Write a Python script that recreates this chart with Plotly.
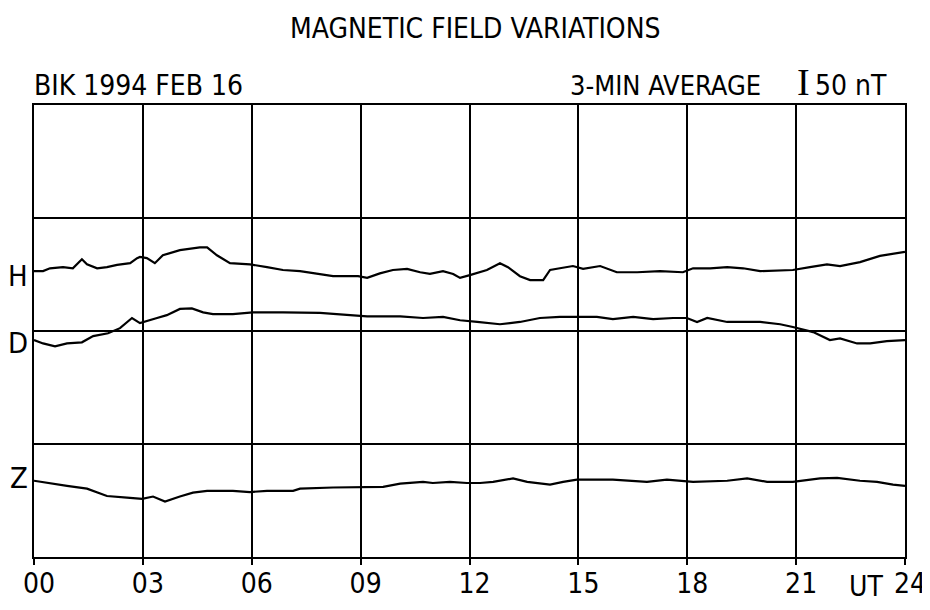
import plotly.graph_objects as go

# ---- data (UT hours, nT deviations from each trace's start level) ----
H_UT = [0.0, 0.25, 0.44, 0.80, 1.07, 1.32, 1.46, 1.74, 2.01, 2.29, 2.65, 2.84, 2.92, 3.11, 3.33,
        3.55, 4.02, 4.30, 4.57, 4.77, 5.04, 5.40, 5.95, 6.42, 6.86, 7.33, 7.80, 8.24, 8.93, 9.18,
        9.53, 9.89, 10.28, 10.64, 10.91, 11.27, 11.55, 11.74, 12.01, 12.48, 12.84, 13.06, 13.39,
        13.67, 14.03, 14.22, 14.49, 14.85, 15.13, 15.60, 16.06, 16.62, 17.25, 17.88, 18.16, 18.63,
        19.10, 19.54, 20.01, 20.91, 21.38, 21.85, 22.21, 22.76, 23.31, 24.0]
H_nT = [0, 0, 5, 7, 5, 21, 12, 5, 7, 11, 14, 23, 25, 23, 14,
        28, 37, 39, 42, 42, 28, 14, 12, 7, 2, 0, -4, -9, -9, -12,
        -4, 2, 4, -2, -5, 0, -5, -12, -7, 2, 14, 7, -9,
        -16, -16, 2, 5, 9, 4, 9, -2, -2, 0, -2, 5, 5,
        7, 5, 0, 2, 7, 12, 9, 16, 27, 34]

D_UT = [0.0, 0.25, 0.58, 0.91, 1.32, 1.63, 2.04, 2.37, 2.70, 2.92, 3.39, 3.66, 4.02, 4.35, 4.66,
        4.93, 5.48, 6.03, 6.86, 7.88, 8.71, 9.18, 10.09, 10.72, 11.27, 11.74, 12.21, 12.84, 13.39,
        13.94, 14.49, 14.85, 15.51, 15.95, 16.51, 17.06, 17.61, 17.99, 18.27, 18.55, 19.10, 20.01,
        20.56, 20.91, 21.47, 21.93, 22.21, 22.68, 23.04, 23.50, 24.0]
D_nT = [2, -4, -9, -4, -2, 9, 14, 23, 41, 32, 41, 46, 57, 58, 51,
        48, 48, 51, 51, 50, 46, 44, 44, 41, 43, 37, 34, 30, 34,
        41, 43, 43, 43, 39, 43, 39, 41, 41, 34, 41, 34, 34,
        30, 25, 16, 2, 5, -4, -4, 0, 2]

Z_UT = [0.0, 0.36, 0.91, 1.46, 2.01, 2.56, 2.98, 3.28, 3.61, 4.02, 4.38, 4.77, 5.48, 5.95, 6.42,
        7.14, 7.33, 8.24, 8.93, 9.62, 10.09, 10.72, 10.99, 11.46, 11.93, 12.29, 12.65, 13.20, 13.59,
        14.22, 14.58, 14.96, 15.95, 16.89, 17.44, 18.16, 19.10, 19.65, 20.20, 20.91, 21.66, 22.13,
        22.76, 23.23, 23.67, 24.0]
Z_nT = [0, -4, -9, -14, -27, -30, -32, -28, -37, -28, -21, -18, -18, -20, -18,
        -18, -14, -12, -12, -11, -5, -2, -4, -2, -4, -4, -2, 4, -2,
        -7, -2, 2, 2, -2, 2, -2, 0, 4, -2, -2, 4, 5,
        0, -2, -7, -9]

# plotting levels (nT on the chart's vertical scale, 200 nT per grid division)
BASE = {"H": 506, "D": 382, "Z": 135}
LABEL_Y = {"H": 497, "D": 379, "Z": 140}
HOUR_TICKS = [0, 3, 6, 9, 12, 15, 18, 21, 24]
HOUR_LABELS = ["00", "03", "06", "09", "12", "15", "18", "21", "24"]

FONT = "Liberation Sans Narrow, DejaVu Sans Condensed, Arial Narrow, sans-serif"

fig = go.Figure()
for name, t, v in (("H", H_UT, H_nT), ("D", D_UT, D_nT), ("Z", Z_UT, Z_nT)):
    fig.add_trace(go.Scatter(
        x=t, y=[BASE[name] + d for d in v], mode="lines", name=name,
        line=dict(color="black", width=2.2), showlegend=False, hoverinfo="skip"))

ann = []
for name in ("H", "D", "Z"):
    ann.append(dict(text=name, xref="paper", x=0, xanchor="right", xshift=-4,
                    yref="y", y=LABEL_Y[name], yanchor="middle", showarrow=False,
                    font=dict(size=29, family=FONT, color="black")))
ann += [
    dict(text="MAGNETIC FIELD VARIATIONS", xref="paper", yref="paper", x=0.507, y=1.170,
         xanchor="center", yanchor="middle", showarrow=False,
         font=dict(size=28, family=FONT, color="black")),
    dict(text="BIK 1994 FEB 16", xref="paper", yref="paper", x=-0.002, y=1.044,
         xanchor="left", yanchor="middle", showarrow=False,
         font=dict(size=28, family=FONT, color="black")),
    dict(text="3-MIN AVERAGE", xref="paper", yref="paper", x=0.837, y=1.044,
         xanchor="right", yanchor="middle", showarrow=False,
         font=dict(size=27, family=FONT, color="black")),
    dict(text="I", xref="paper", yref="paper", x=0.884, y=1.050,
         xanchor="center", yanchor="middle", showarrow=False,
         font=dict(size=38, family="Liberation Serif, DejaVu Serif, serif", color="black")),
    dict(text="50 nT", xref="paper", yref="paper", x=0.894, y=1.044,
         xanchor="left", yanchor="middle", showarrow=False,
         font=dict(size=28, family=FONT, color="black")),
    dict(text="UT", xref="paper", yref="paper", x=0.955, y=-0.066,
         xanchor="center", yanchor="middle", showarrow=False,
         font=dict(size=28, family=FONT, color="black")),
]

# the page adds an 8 px body margin, so the figure is 8 px smaller and margins shifted
fig.update_layout(
    width=922, height=602,
    margin=dict(l=26, r=25, t=97, b=53, autoexpand=False),
    paper_bgcolor="white", plot_bgcolor="white",
    annotations=ann,
    xaxis=dict(range=[0, 24], tickvals=HOUR_TICKS, ticktext=HOUR_LABELS,
               automargin=False,
               showgrid=True, gridcolor="black", gridwidth=2,
               showline=True, linecolor="black", linewidth=2, mirror=True,
               ticks="outside", ticklen=6, tickwidth=2, tickcolor="black",
               ticklabelshift=5, ticklabelstandoff=-6, zeroline=False,
               tickfont=dict(size=28, family=FONT, color="black")),
    yaxis=dict(range=[0, 800], tickvals=[0, 200, 400, 600, 800], showticklabels=False,
               automargin=False,
               showgrid=True, gridcolor="black", gridwidth=2,
               showline=True, linecolor="black", linewidth=2, mirror=True,
               ticks="", zeroline=False),
)

fig.write_html("out.html")
